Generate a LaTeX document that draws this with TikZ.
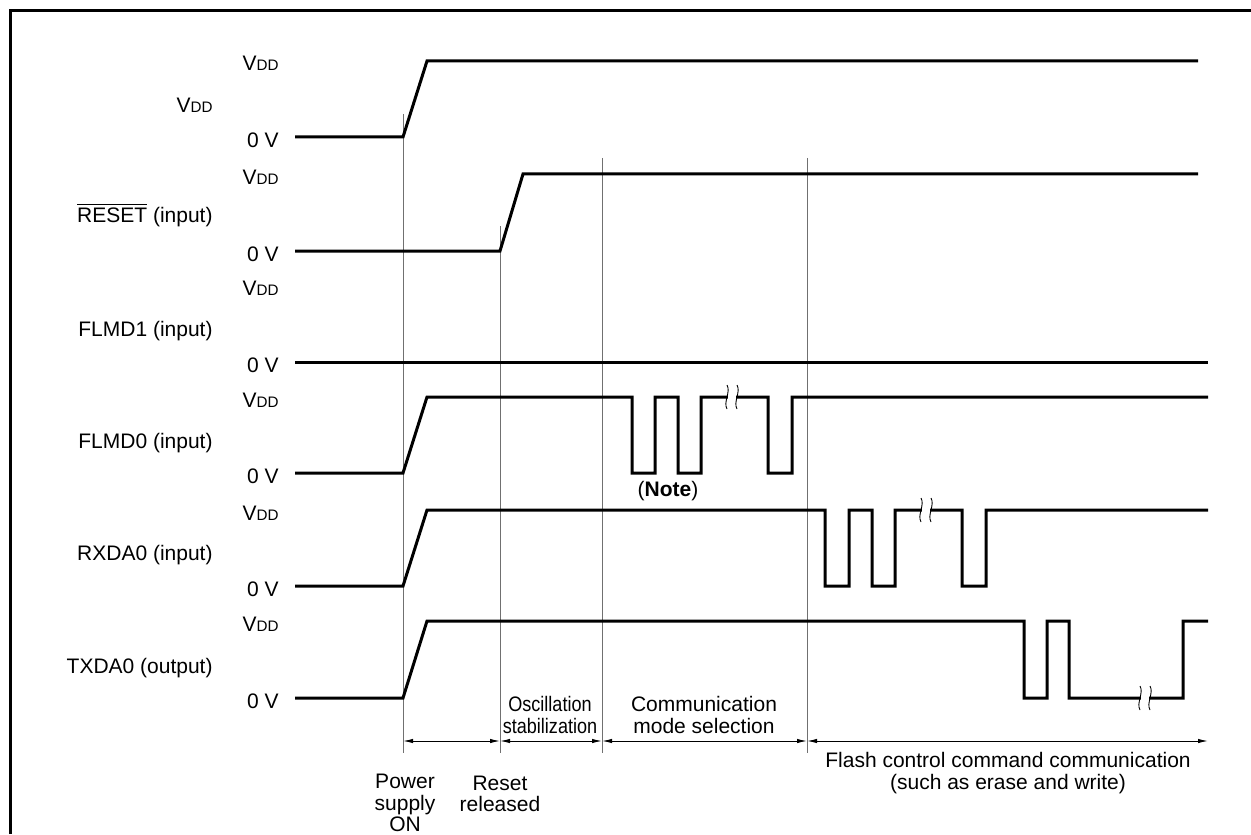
\documentclass[tikz,border=0pt]{standalone}
\usepackage{fontspec}
\setmainfont{Liberation Sans}
\usetikzlibrary{arrows.meta}
\definecolor{TDWave}{HTML}{000000}
\definecolor{TDGuide}{HTML}{707070}
\newcommand{\vdd}{V{\fontsize{7.6}{7.6}\selectfont DD}}
\newcommand{\narrow}[1]{\scalebox{0.86}[1]{#1}}
\newcommand{\tdbreak}[2]{%
  \fill[white] (#1-4,#2-6) rectangle (#1+4,#2+6);
  \draw[TDWave,line width=.45pt] (#1-5,#2-12) .. controls (#1-1,#2-5) and (#1-9,#2+5) .. (#1-5,#2+12);
  \draw[TDWave,line width=.45pt] (#1+5,#2-12) .. controls (#1+9,#2-5) and (#1+1,#2+5) .. (#1+5,#2+12);}
\tikzset{
  wave/.style={TDWave,line width=1.5pt},
  guide/.style={TDGuide,line width=.5pt},
  span/.style={TDWave,line width=.5pt,{Latex[length=5pt,width=2.2pt]}-{Latex[length=5pt,width=2.2pt]}},
  lbl/.style={font=\fontsize{10.5}{10.6}\selectfont,inner sep=0pt,align=center}
}

\begin{document}
\begin{tikzpicture}[x=.5pt,y=-.5pt]
\path[use as bounding box] (0,0) rectangle (1251,834);
\draw[TDWave,line width=1.5pt] (10,834) -- (10,11) -- (1251,11);
\draw[guide] (403,114) -- (403,753);
\draw[guide] (500,226) -- (500,753);
\draw[guide] (602,158) -- (602,753);
\draw[guide] (807,158) -- (807,753);
\draw[wave] (295,137) -- (403,137) -- (427,61) -- (1198,61);
\node[lbl,anchor=east] (vddrow) at (213,105) {\vdd};
\node[lbl,anchor=east] (vddhi) at (279,63) {\vdd};
\node[lbl,anchor=east] (vddlo) at (279,140) {0 V};
\draw[wave] (295,251) -- (500,251) -- (523,174) -- (1198,174);
\node[lbl,anchor=east] (rstrow) at (213,215) {$\overline{\mbox{RESET}}$ (input)};
\node[lbl,anchor=east] (rsthi) at (279,177) {\vdd};
\node[lbl,anchor=east] (rstlo) at (279,254) {0 V};
\draw[wave] (295,362) -- (1208,362);
\node[lbl,anchor=east] (fm1row) at (213,331) {FLMD1 (input)};
\node[lbl,anchor=east] (fm1hi) at (279,288) {\vdd};
\node[lbl,anchor=east] (fm1lo) at (279,365) {0 V};
\draw[wave] (295,473) -- (403,473) -- (427,397) -- (632,397) -- (632,473) -- (655,473) -- (655,397) -- (678,397) -- (678,473) -- (701,473) -- (701,397) -- (768,397) -- (768,473) -- (792,473) -- (792,397) -- (1208,397);
\tdbreak{732}{397}
\node[lbl,anchor=east] (fm0row) at (213,443) {FLMD0 (input)};
\node[lbl,anchor=east] (fm0hi) at (279,400) {\vdd};
\node[lbl,anchor=east] (fm0lo) at (279,476) {0 V};
\node[lbl] (note) at (668,491) {(\textbf{Note})};
\draw[wave] (295,586) -- (403,586) -- (427,510) -- (825,510) -- (825,586) -- (849,586) -- (849,510) -- (872,510) -- (872,586) -- (895,586) -- (895,510) -- (962,510) -- (962,586) -- (986,586) -- (986,510) -- (1208,510);
\tdbreak{926}{510}
\node[lbl,anchor=east] (rxdrow) at (213,555) {RXDA0 (input)};
\node[lbl,anchor=east] (rxdhi) at (279,513) {\vdd};
\node[lbl,anchor=east] (rxdlo) at (279,589) {0 V};
\draw[wave] (295,698) -- (403,698) -- (427,621) -- (1024,621) -- (1024,698) -- (1047,698) -- (1047,621) -- (1069,621) -- (1069,698) -- (1183,698) -- (1183,621) -- (1208,621);
\tdbreak{1145}{698}
\node[lbl,anchor=east] (txdrow) at (213,668) {TXDA0 (output)};
\node[lbl,anchor=east] (txdhi) at (279,624) {\vdd};
\node[lbl,anchor=east] (txdlo) at (279,701) {0 V};
\coordinate (tA) at (403,741);
\coordinate (tB) at (500,741);
\coordinate (tC) at (602,741);
\coordinate (tD) at (807,741);
\coordinate (tE) at (1208,741);
\draw[span] (tA) -- (tB);
\draw[span] (tB) -- (tC);
\draw[span] (tC) -- (tD);
\draw[span] (tD) -- (tE);
\node[lbl] (osc) at (550,715) {\narrow{Oscillation}\\\narrow{stabilization}};
\node[lbl] (comm) at (704,715) {Communication\\mode selection};
\node[lbl] (pwr) at (405,803) {Power\\supply\\ON};
\node[lbl] (rel) at (500,794) {Reset\\released};
\node[lbl] (flash) at (1008,773) {Flash control command communication\\(such as erase and write)};
\end{tikzpicture}
\end{document}
